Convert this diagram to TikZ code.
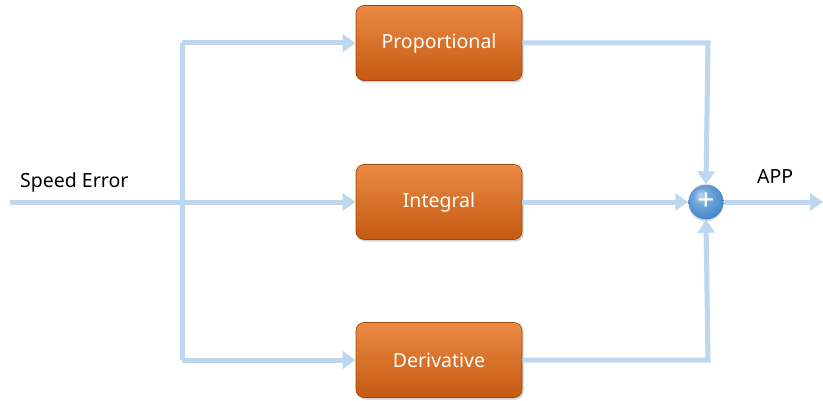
\documentclass[tikz,border=0pt]{standalone}
\usepackage{fontspec}
\setmainfont{Noto Sans}
\usetikzlibrary{arrows.meta,shadows,shadings}
\definecolor{lineblue}{HTML}{BDD7EE}
\definecolor{orangetop}{HTML}{EB8A45}
\definecolor{orangebot}{HTML}{C55A11}
\definecolor{ballblue}{HTML}{4F8FD0}
\pgfdeclareradialshading{myball}{\pgfpoint{-8bp}{10bp}}{%
  color(0bp)=(ballblue!35!white);
  color(12bp)=(ballblue!80!white);
  color(25bp)=(ballblue);
  color(40bp)=(ballblue!75!black);
  color(50bp)=(ballblue!75!black)}
\tikzset{
  pidbox/.style={draw=orangebot!80!black, line width=0.6pt, rounded corners=8pt,
    minimum width=166pt, minimum height=75pt, top color=orangetop, bottom color=orangebot,
    text=white, font=\fontsize{19.5}{22}\selectfont,
    drop shadow={shadow xshift=1.5pt, shadow yshift=-2pt, opacity=0.35}},
  conn/.style={draw=lineblue, line width=5pt},
  arr/.style={conn, -{Triangle[width=17pt,length=13pt]}},
  lbl/.style={font=\fontsize{19.5}{22}\selectfont, text=black, inner sep=0pt}
}
\begin{document}
\begin{tikzpicture}[x=1pt,y=1pt]
\useasboundingbox (0,0) rectangle (823,400);
% nodes
\node[pidbox] (P) at (439,357) {Proportional};
\node[pidbox] (I) at (439,198) {Integral};
\node[pidbox] (D) at (439,40) {Derivative};
\node[circle, minimum size=35pt, inner sep=0pt, shading=myball,
  drop shadow={shadow xshift=0pt, shadow yshift=-2pt, opacity=0.25},
  text=white, font=\fontsize{30}{30}\selectfont] (S) at (706,198) {+};
\coordinate (in) at (10,198);
\coordinate (split) at (182,198);
\coordinate (top) at (182,357);
\coordinate (bot) at (182,40);
\coordinate (pr) at (708,357);
\coordinate (dr) at (708,40);
\coordinate (out) at (823,198);
\node[lbl, anchor=base west] (SE) at (20,213) {Speed Error};
\node[lbl, anchor=base west] (APP) at (757,217) {APP};
% connectors
\draw[conn] (top) -- (bot);
\draw[arr] (in) -- (I.west);
\draw[arr] (top) -- (P.west);
\draw[arr] (bot) -- (D.west);
\draw[arr] (P.east) -- (pr) -- (S.north);
\draw[arr] (D.east) -- (dr) -- (S.south);
\draw[arr] (I.east) -- (S.west);
\draw[arr] (S.east) -- (out);
\end{tikzpicture}
\end{document}
